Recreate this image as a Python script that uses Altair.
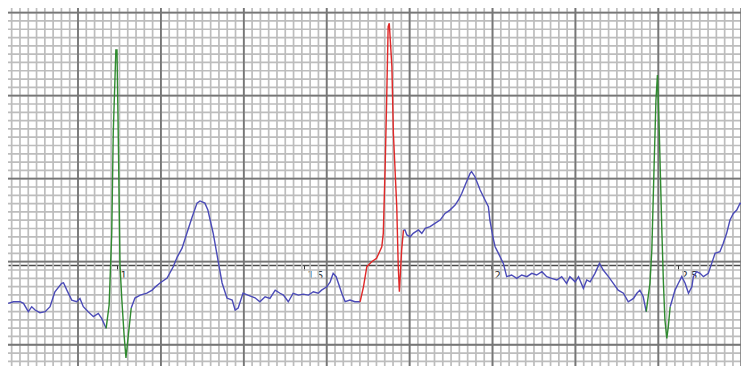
import altair as alt
import numpy as np
import pandas as pd

# ECG trace, time in seconds, amplitude in mV, split by beat colouring
b1_t = [0.709,0.723,0.741,0.750,0.763,0.772,0.781,0.794,0.808,0.821,0.834,0.852,0.857,0.866,0.879,0.892,0.901,0.910,0.923,0.937,0.950,0.959,0.971]
b1_v = [-0.231,-0.221,-0.221,-0.231,-0.281,-0.251,-0.271,-0.287,-0.281,-0.251,-0.161,-0.110,-0.107,-0.151,-0.211,-0.221,-0.201,-0.251,-0.281,-0.311,-0.291,-0.321,-0.381]

g1_t = [0.971,0.979,0.986,0.990,0.997,1.000,1.004,1.008,1.013,1.019,1.024,1.029,1.038]
g1_v = [-0.381,-0.241,0.193,0.795,1.295,1.295,0.693,0.000,-0.211,-0.422,-0.560,-0.452,-0.259]

b2_t = [1.038,1.048,1.062,1.080,1.094,1.102,1.115,1.134,1.150,1.161,1.174,1.187,1.201,1.214,1.222,1.235,1.243,1.257,1.270,1.281,1.294,1.308,1.316,1.324,1.337,1.350,
        1.369,1.382,1.396,1.409,1.423,1.436,1.445,1.458,1.471,1.485,1.498,1.512,1.525,1.538,1.547,1.561,1.570,1.578,1.586,1.592,1.601,1.610,1.623,1.636,1.650]
b2_v = [-0.259,-0.199,-0.181,-0.169,-0.151,-0.133,-0.108,-0.078,-0.012,0.048,0.102,0.193,0.289,0.373,0.386,0.373,0.331,0.193,0.030,-0.108,-0.199,-0.211,-0.271,-0.259,-0.169,-0.181,
        -0.197,-0.221,-0.191,-0.201,-0.151,-0.170,-0.181,-0.221,-0.170,-0.181,-0.175,-0.181,-0.161,-0.170,-0.151,-0.131,-0.101,-0.050,-0.070,-0.110,-0.170,-0.221,-0.211,-0.221,-0.221]

r1_t = [1.650,1.659,1.668,1.681,1.694,1.708,1.712,1.717,1.721,1.725,1.728,1.735,1.739,1.748,1.752,1.755,1.761,1.766]
r1_v = [-0.221,-0.131,-0.010,0.020,0.040,0.110,0.191,0.592,0.994,1.436,1.456,1.195,0.793,0.351,-0.010,-0.161,0.090,0.211]

b3_t = [1.766,1.770,1.775,1.784,1.792,1.806,1.815,1.824,1.837,1.850,1.864,1.877,1.890,1.904,1.913,1.922,1.931,1.944,1.948,1.957,1.971,1.984,1.993,1.997,2.005,2.011,2.020,
        2.033,2.042,2.055,2.069,2.082,2.096,2.109,2.122,2.136,2.149,2.162,2.176,2.189,2.202,2.211,2.225,2.234,2.247,2.256,2.265,2.278,2.290,2.300,2.314,2.327,2.340,2.354,2.367,2.381,2.390,2.398,2.407,2.415]
b3_v = [0.211,0.211,0.181,0.170,0.191,0.211,0.191,0.221,0.231,0.251,0.271,0.311,0.331,0.361,0.392,0.432,0.482,0.552,0.562,0.532,0.452,0.392,0.351,0.271,0.170,0.110,0.070,
        0.010,-0.070,-0.060,-0.080,-0.060,-0.070,-0.050,-0.060,-0.040,-0.070,-0.080,-0.090,-0.070,-0.110,-0.070,-0.101,-0.070,-0.140,-0.090,-0.101,-0.050,0.010,-0.030,-0.070,-0.110,-0.151,-0.170,-0.221,-0.201,-0.170,-0.151,-0.191,-0.281]

g2_t = [2.415,2.425,2.430,2.436,2.441,2.445,2.450,2.457,2.461,2.465,2.470,2.474,2.479]
g2_v = [-0.281,-0.110,0.090,0.592,0.994,1.145,0.793,0.191,-0.110,-0.331,-0.442,-0.372,-0.251]

b4_t = [2.479,2.483,2.492,2.501,2.510,2.519,2.528,2.537,2.541,2.550,2.559,2.568,2.581,2.590,2.599,2.612,2.621,2.630,2.639,2.648,2.657,2.666,2.675,2.684]
b4_v = [-0.251,-0.221,-0.151,-0.110,-0.070,-0.110,-0.170,-0.131,-0.070,-0.040,-0.050,-0.070,-0.050,0.010,0.070,0.080,0.131,0.191,0.271,0.311,0.331,0.372,0.361,0.311]

tick_values = [1, 1.5, 2, 2.5]
kinds = ["normal", "qrs", "ectopic"]
kind_colors = ["#4b4bb8", "#2f8a2f", "#e02828"]

segments = [("b1", "normal", b1_t, b1_v), ("g1", "qrs", g1_t, g1_v), ("b2", "normal", b2_t, b2_v),
            ("r1", "ectopic", r1_t, r1_v), ("b3", "normal", b3_t, b3_v), ("g2", "qrs", g2_t, g2_v),
            ("b4", "normal", b4_t, b4_v)]
rows = []
i = 0
for seg, kind, ts, vs in segments:
    for t, v in zip(ts, vs):
        rows.append({"seg": seg, "kind": kind, "t": t, "v": v, "i": i})
        i += 1
trace = pd.DataFrame(rows)

# ECG paper grid (big boxes and 10 small boxes each)
x0, big_x, big_y, y0 = 0.6741, 0.22166, 0.5, 0.02
minor_x = pd.DataFrame({"gx": x0 + big_x / 10 * np.arange(92)})
major_x = pd.DataFrame({"gx": x0 + big_x * np.arange(10)})
minor_y = pd.DataFrame({"gy": y0 + big_y / 10 * np.arange(-13, 31)})
major_y = pd.DataFrame({"gy": y0 + big_y * np.arange(-1, 4)})

W, H = 733, 358
xdom = [0.7086, 2.6684]
ydom = [-0.608, 1.548]
xscale = alt.Scale(domain=xdom, nice=False, zero=False)
yscale = alt.Scale(domain=ydom, nice=False, zero=False)

xaxis = alt.Axis(values=tick_values, labelExpr="datum.value", offset=-101, grid=False,
                 domainColor="#4a4a4a", domainWidth=1.3, tickColor="#333333", tickSize=5,
                 labelAlign="left", labelBaseline="top", labelOffset=3, labelPadding=0,
                 labelFont="DejaVu Sans", labelFontSize=10, labelColor="#333333", title=None)

minor_v = alt.Chart(minor_x).mark_rule(color="#bdbdbd", strokeWidth=1.7, clip=True).encode(
    x=alt.X("gx:Q", scale=xscale, axis=xaxis))
major_v = alt.Chart(major_x).mark_rule(color="#767676", strokeWidth=1.8, clip=True).encode(
    x=alt.X("gx:Q", scale=xscale, axis=xaxis))
minor_h = alt.Chart(minor_y).mark_rule(color="#bdbdbd", strokeWidth=1.7, clip=True).encode(
    y=alt.Y("gy:Q", scale=yscale, axis=None))
major_h = alt.Chart(major_y).mark_rule(color="#767676", strokeWidth=1.8, clip=True).encode(
    y=alt.Y("gy:Q", scale=yscale, axis=None))

line = alt.Chart(trace).mark_line(strokeWidth=1.4, clip=True).encode(
    x=alt.X("t:Q", scale=xscale, axis=xaxis),
    y=alt.Y("v:Q", scale=yscale, axis=None),
    color=alt.Color("kind:N", scale=alt.Scale(domain=kinds, range=kind_colors), legend=None),
    detail="seg:N",
    order="i:Q",
)

chart = alt.layer(minor_v, minor_h, major_v, major_h, line).properties(
    width=W, height=H, padding=0, autosize="none", background="white"
).configure_view(strokeWidth=0)

chart.save("out.html", embed_options={"renderer": "svg", "actions": False})
